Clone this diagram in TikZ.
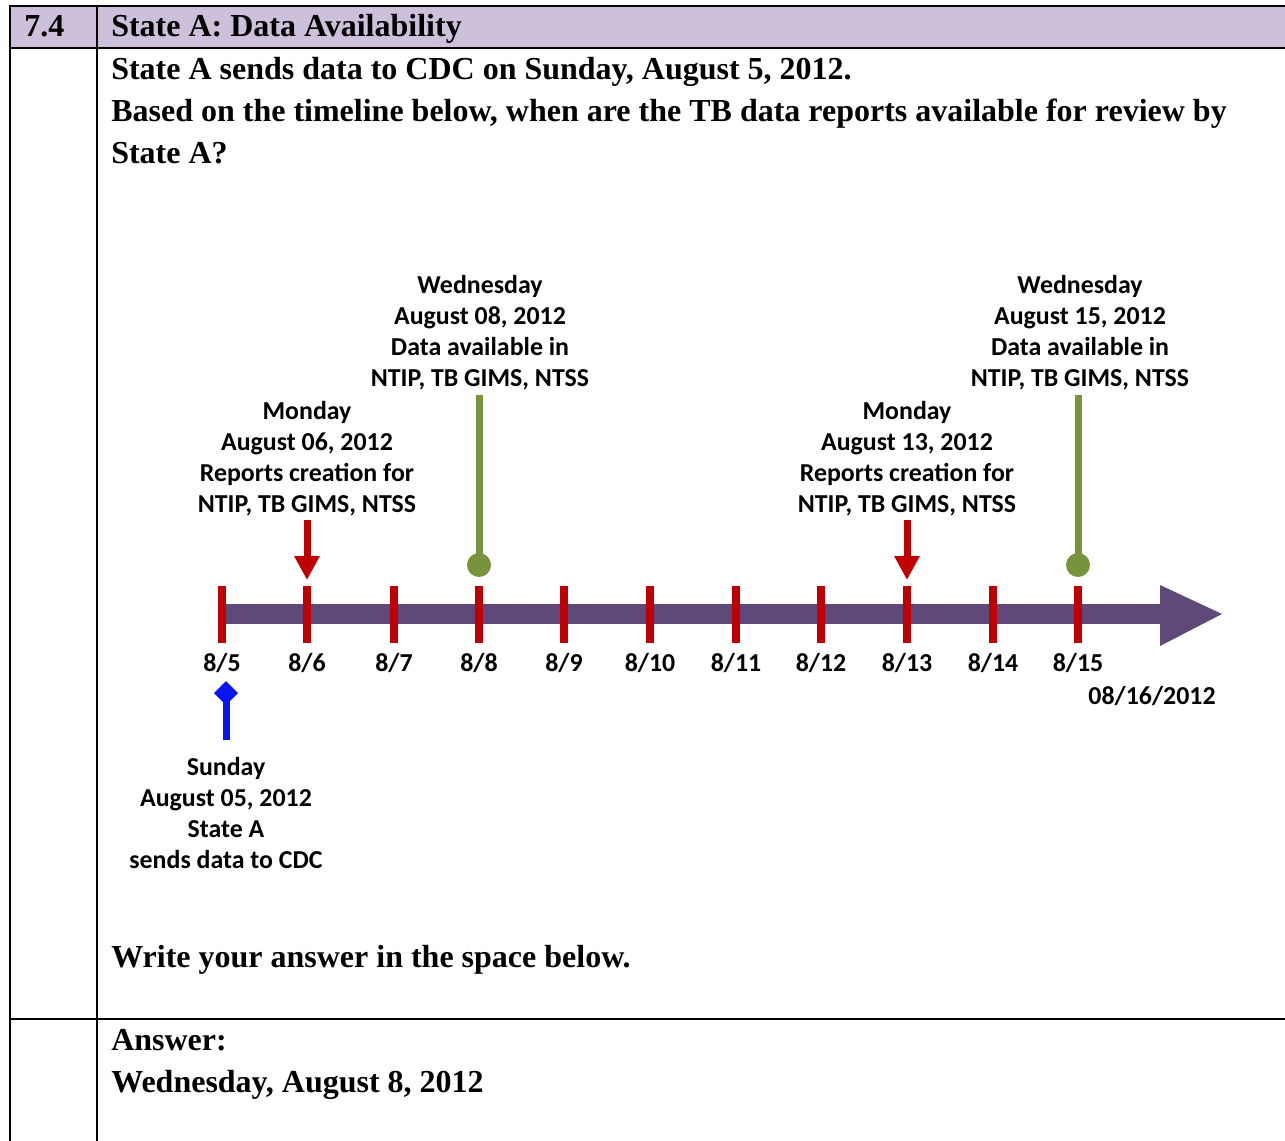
\documentclass[tikz,border=0pt]{standalone}
\usepackage{fontspec}
\setmainfont{Liberation Serif}
\newfontfamily\calib{Carlito}
\usetikzlibrary{arrows.meta}
\definecolor{hdr}{HTML}{CCC0DA}
\definecolor{tlpurple}{HTML}{5F497A}
\definecolor{tlred}{HTML}{C00000}
\definecolor{tlgreen}{HTML}{77933C}
\definecolor{tlblue}{HTML}{0A14F0}
\tikzset{
  rule/.style={line width=1.9pt, black},
  qtext/.style={anchor=base west, inner sep=0pt, font=\fontsize{24pt}{31pt}\selectfont\bfseries},
  tltext/.style={align=center, inner sep=0pt, font=\fontsize{19.4pt}{23.25pt}\selectfont\calib\bfseries},
  ticklab/.style={inner sep=0pt, font=\fontsize{19.4pt}{23pt}\selectfont\calib\bfseries},
  tick/.style={line width=6pt, tlred},
  redarrow/.style={line width=5.25pt, tlred, -{Triangle[length=18pt,width=18pt]}},
  greenline/.style={line width=5.25pt, tlgreen},
}
\begin{document}
\begin{tikzpicture}[x=0.75pt,y=-0.75pt]
\useasboundingbox (0,0) rectangle (1285,1141);
% table
\fill[hdr] (10,6) rectangle (1285,48);
\draw[rule] (1285,6) -- (10,6) -- (10,1141);
\draw[rule] (97,6) -- (97,1141);
\draw[rule] (10,48) -- (1285,48);
\draw[rule] (10,1019) -- (1285,1019);
\node[qtext] (num) at (24,37) {7.4};
\node[qtext] (title) at (111,37) {State A: Data Availability};
\node[qtext] (q1) at (111,80) {State A sends data to CDC on Sunday, August 5, 2012.};
\node[qtext] (q2) at (111,122) {Based on the timeline below, when are the TB data reports available for review by};
\node[qtext] (q3) at (111,164) {State A?};
\node[qtext] (write) at (111,967) {Write your answer in the space below.};
\node[qtext] (ans1) at (111,1050) {Answer:};
\node[qtext] (ans2) at (111,1092) {Wednesday, August 8, 2012};
% timeline bar
\fill[tlpurple] (218,604) rectangle (1162,624);
\fill[tlpurple] (1160,585) -- (1222,614) -- (1160,646) -- cycle;
% ticks and labels
\foreach \x/\l [count=\i] in {222/8\slash 5,307/8\slash 6,394/8\slash 7,479/8\slash 8,564/8\slash 9,650/8\slash 10,736/8\slash 11,821/8\slash 12,907/8\slash 13,993/8\slash 14,1078/8\slash 15}{
  \coordinate (t\i top) at (\x,586);
  \coordinate (t\i bot) at (\x,643);
  \draw[tick] (t\i top) -- (t\i bot);
  \node[ticklab] (lab\i) at (\x,663) {\l};
}
\node[ticklab] (end) at (1152,696) {08/16/2012};
% red arrows (Mondays)
\coordinate (r1s) at (307,520); \coordinate (r1e) at (307,580);
\coordinate (r2s) at (907,520); \coordinate (r2e) at (907,580);
\draw[redarrow] (r1s) -- (r1e);
\draw[redarrow] (r2s) -- (r2e);
% green lollipops (Wednesdays)
\coordinate (g1s) at (479,395); \coordinate (g1e) at (479,565);
\coordinate (g2s) at (1078,395); \coordinate (g2e) at (1078,565);
\draw[greenline] (g1s) -- (g1e);
\draw[greenline] (g2s) -- (g2e);
\fill[tlgreen] (g1e) circle[radius=12];
\fill[tlgreen] (g2e) circle[radius=12];
% blue marker (Sunday)
\coordinate (bs) at (226,740); \coordinate (be) at (226,700);
\draw[line width=5.25pt, tlblue] (bs) -- (be);
\fill[tlblue] (226,681) -- (238,693) -- (226,705) -- (214,693) -- cycle;
% labels
\node[tltext] (wed1) at (480,333) {Wednesday\\August 08, 2012\\Data available in\\NTIP, TB GIMS, NTSS};
\node[tltext] (wed2) at (1080,333) {Wednesday\\August 15, 2012\\Data available in\\NTIP, TB GIMS, NTSS};
\node[tltext] (mon1) at (307,459) {Monday\\August 06, 2012\\Reports creation for\\NTIP, TB GIMS, NTSS};
\node[tltext] (mon2) at (907,459) {Monday\\August 13, 2012\\Reports creation for\\NTIP, TB GIMS, NTSS};
\node[tltext] (sun) at (226,813) {Sunday\\August 05, 2012\\State A\\sends data to CDC};
\end{tikzpicture}
\end{document}
